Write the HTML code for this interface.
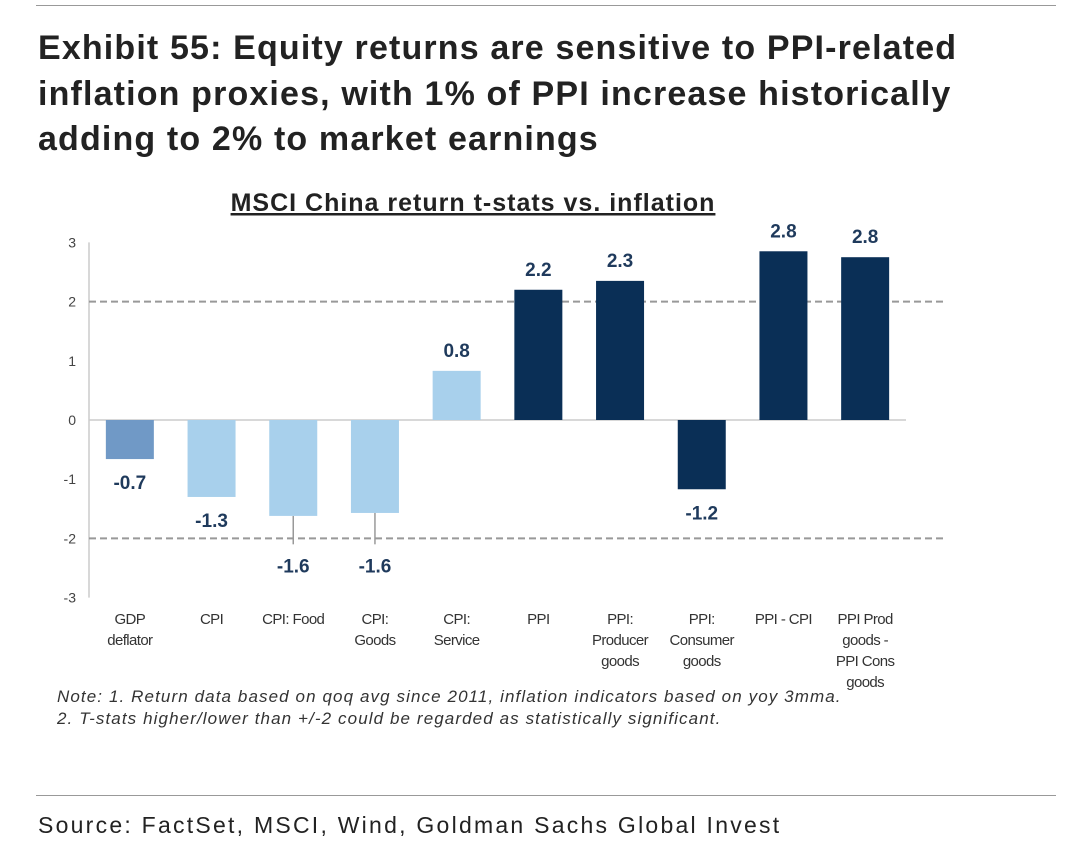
<!DOCTYPE html>
<html><head><meta charset="utf-8"><style>
body{margin:0;background:#fff;width:1080px;height:860px;overflow:hidden;font-family:"Liberation Sans",sans-serif;}
.rule{position:absolute;left:36px;width:1020px;height:1px;background:#999;}
#title{position:absolute;left:38px;top:26px;font-size:34px;font-weight:bold;color:#222;line-height:45.5px;letter-spacing:1.15px;}
#source{position:absolute;left:38px;top:812px;font-size:23px;color:#222;letter-spacing:2.25px;}
</style></head><body>
<div class="rule" style="top:5px"></div>
<div id="title">Exhibit 55: Equity returns are sensitive to PPI-related<br>inflation proxies, with 1% of PPI increase historically<br>adding to 2% to market earnings</div>
<svg id="chart" width="1080" height="860" style="position:absolute;left:0;top:0"></svg>
<div class="rule" style="top:795px"></div>
<div id="source">Source: FactSet, MSCI, Wind, Goldman Sachs Global Invest</div>
<script>
const categories=[["GDP","deflator"],["CPI"],["CPI: Food"],["CPI:","Goods"],["CPI:","Service"],["PPI"],["PPI:","Producer","goods"],["PPI:","Consumer","goods"],["PPI - CPI"],["PPI Prod","goods -","PPI Cons","goods"]];
const values=[-0.66,-1.3,-1.62,-1.57,0.83,2.2,2.35,-1.17,2.85,2.75];
const valueLabels=["-0.7","-1.3","-1.6","-1.6","0.8","2.2","2.3","-1.2","2.8","2.8"];
const colorGroup=["mid","light","light","light","light","dark","dark","dark","dark","dark"];
const yTicks=[3,2,1,0,-1,-2,-3];
const thresholds=[2,-2];

const svg=document.getElementById('chart');
const NS='http://www.w3.org/2000/svg';
const x0=89,step=81.7,bw=48;
const y=v=>420-v*59.2;
const xc=i=>x0+step*(i+0.5);
const colors={mid:"#7099c6",light:"#a8d0ec",dark:"#0a2f56"};
function mk(tag,attrs,txt){const e=document.createElementNS(NS,tag);for(const k in attrs)e.setAttribute(k,attrs[k]);if(txt!==undefined)e.textContent=txt;svg.appendChild(e);return e;}

let t=mk('text',{x:473,y:211,'text-anchor':'middle','font-size':25,'font-weight':'bold',fill:'#222','text-decoration':'underline','letter-spacing':'1.0'},'MSCI China return t-stats vs. inflation');



let ax=mk('line',{x1:x0,x2:x0,y1:y(3),y2:y(-3),stroke:'#ccc','stroke-width':1.5});


yTicks.forEach(v=>{
  let l=mk('text',{x:76,y:y(v)+5,'text-anchor':'end','font-size':14,fill:'#444'},String(v));
  
  
});
let zl=mk('line',{x1:x0,x2:x0+step*10,y1:y(0),y2:y(0),stroke:'#ccc','stroke-width':1.5});


thresholds.forEach(v=>{
  let d=mk('line',{x1:x0,x2:946,y1:y(v),y2:y(v),stroke:'#999','stroke-width':2,'stroke-dasharray':'7,4'});
  
  
});
values.forEach((v,i)=>{
  const cx=xc(i);
  const whisk=(i===2||i===3);
  if(whisk){
    let w=mk('line',{x1:cx,x2:cx,y1:y(v),y2:y(-2.1),stroke:'#999','stroke-width':1.5});
    
    
  }
  let r=mk('rect',{x:cx-bw/2,y:Math.min(y(v),y(0)),width:bw,height:Math.abs(y(v)-y(0)),fill:colors[colorGroup[i]]});
  
  
  const ly=v>=0?y(v)-14:(whisk?y(-2.1)+28:y(v)+30);
  let lb=mk('text',{x:cx,y:ly,'text-anchor':'middle','font-size':19,'font-weight':'bold',fill:'#1f3a5c'},valueLabels[i]);
  
  
  categories[i].forEach((s,j)=>{
    let c=mk('text',{x:cx,y:624+j*21,'text-anchor':'middle','font-size':15,fill:'#333','letter-spacing':'-0.6'},s);
    
    
  });
});
[["Note: 1. Return  data based on qoq avg since 2011, inflation indicators based on yoy 3mma.",702],["2. T-stats higher/lower  than +/-2 could be regarded  as statistically significant.",724]].forEach(([s,yy])=>{
  let n=mk('text',{x:57,y:yy,'font-size':17,'font-style':'italic',fill:'#333','letter-spacing':'1.1'},s);
  
  
});
</script>
</body></html>
